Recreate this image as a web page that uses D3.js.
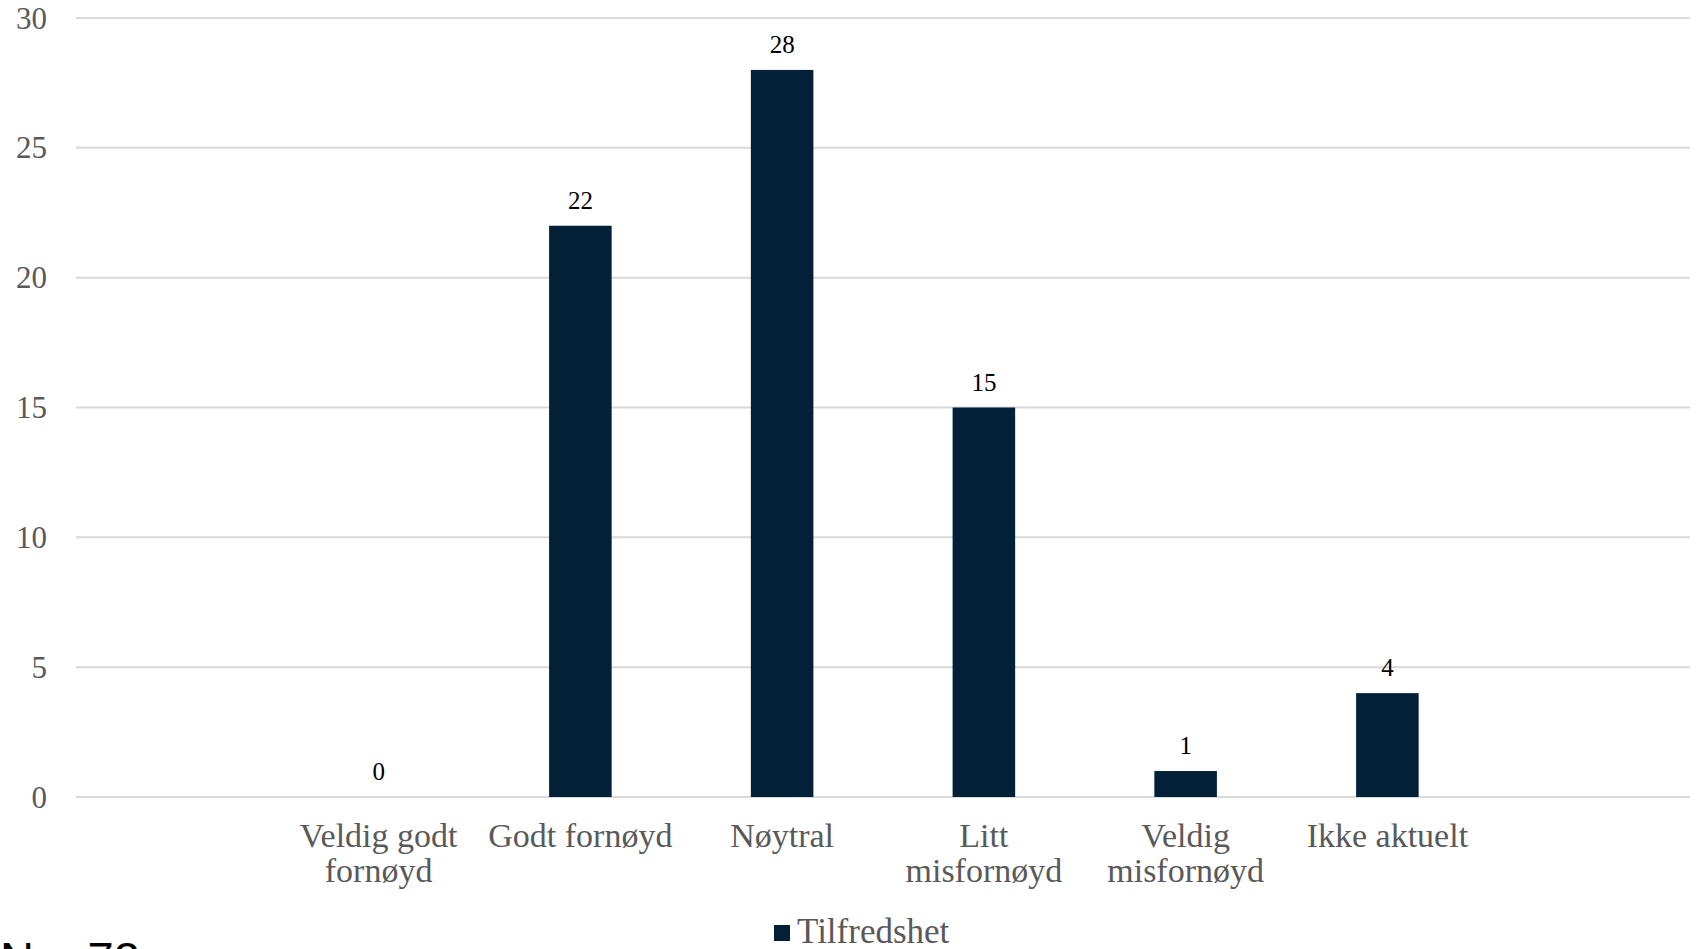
<!DOCTYPE html>
<html>
<head>
<meta charset="utf-8">
<script src="https://cdn.jsdelivr.net/npm/d3@7"></script>
<style>
    body { margin: 0; background: #fff; }
    svg { display: block; }
    .tick-label, .cat-label, .legend-label { fill: #595959; font-family: "Liberation Serif", "DejaVu Serif", serif; }
    .value-label { fill: #000; font-family: "Liberation Serif", "DejaVu Serif", serif; }
</style>
</head>
<body>
<svg id="chart"></svg>
<script>
var categories = ['Veldig godt fornøyd', 'Godt fornøyd', 'Nøytral', 'Litt misfornøyd', 'Veldig misfornøyd', 'Ikke aktuelt'];
var values = [0, 22, 28, 15, 1, 4];
var yTicks = [0, 5, 10, 15, 20, 25, 30];
var seriesName = 'Tilfredshet';
var note = 'N = 72';

var width = 1696, height = 949;
var margin = { top: 18, right: 6, bottom: 152, left: 76 };

var svg = d3.select('#chart')
    .attr('width', width)
    .attr('height', height);

var x = d3.scaleBand()
    .domain(categories)
    .range([margin.left, width - margin.right])
    .paddingInner(0.69)
    .paddingOuter(1.345);

var y = d3.scaleLinear()
    .domain([0, 30])
    .range([height - margin.bottom, margin.top]);

// gridlines
svg.append('g')
    .selectAll('line')
    .data(yTicks)
    .enter().append('line')
    .attr('x1', margin.left)
    .attr('x2', width - margin.right)
    .attr('y1', function (d) { return y(d); })
    .attr('y2', function (d) { return y(d); })
    .attr('stroke', '#d9d9d9')
    .attr('stroke-width', 2);

// y tick labels
svg.append('g')
    .selectAll('text')
    .data(yTicks)
    .enter().append('text')
    .classed('tick-label', true)
    .attr('x', 47)
    .attr('y', function (d) { return y(d); })
    .attr('dy', '0.34em')
    .attr('text-anchor', 'end')
    .style('font-size', '31px')
    .text(function (d) { return d; });

// bars
svg.append('g')
    .selectAll('rect')
    .data(values)
    .enter().append('rect')
    .attr('x', function (d, i) { return x(categories[i]); })
    .attr('y', function (d) { return y(d); })
    .attr('width', x.bandwidth())
    .attr('height', function (d) { return y(0) - y(d); })
    .attr('fill', '#022139');

// value labels
svg.append('g')
    .selectAll('text')
    .data(values)
    .enter().append('text')
    .classed('value-label', true)
    .attr('x', function (d, i) { return x(categories[i]) + x.bandwidth() / 2; })
    .attr('y', function (d) { return y(d) - 17; })
    .attr('text-anchor', 'middle')
    .style('font-size', '25px')
    .text(function (d) { return d; });

// category labels, wrapped to the band step
svg.append('g')
    .selectAll('text')
    .data(categories)
    .enter().append('text')
    .classed('cat-label', true)
    .attr('text-anchor', 'middle')
    .style('font-size', '34px')
    .attr('transform', function (d) { return 'translate(' + (x(d) + x.bandwidth() / 2) + ',' + (y(0) + 50) + ')'; })
    .each(function (d) {
        var text = d3.select(this);
        var words = d.split(' ');
        var line = [];
        var lineNo = 0;
        var tspan = text.append('tspan').attr('x', 0).attr('y', 0);
        words.forEach(function (w) {
            line.push(w);
            tspan.text(line.join(' '));
            if (tspan.node().getComputedTextLength() > x.step() - 4 && line.length > 1) {
                line.pop();
                tspan.text(line.join(' '));
                line = [w];
                lineNo++;
                tspan = text.append('tspan').attr('x', 0).attr('y', lineNo * 35).text(w);
            }
        });
    });

// legend
var legend = svg.append('g')
    .attr('transform', 'translate(774,925)');

legend.append('rect')
    .attr('width', 16)
    .attr('height', 16)
    .attr('fill', '#022139');

legend.append('text')
    .classed('legend-label', true)
    .attr('x', 23)
    .attr('y', 18)
    .style('font-size', '35px')
    .text(seriesName);

// note, cut off at the bottom edge as in the source
svg.append('text')
    .attr('x', 0)
    .attr('y', 975)
    .style('font-family', '"Liberation Sans", Arial, sans-serif')
    .style('font-size', '47px')
    .attr('fill', '#000')
    .text(note);
</script>
</body>
</html>
